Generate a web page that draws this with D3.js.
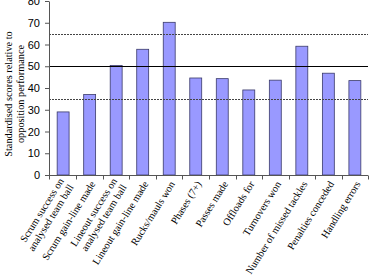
<!DOCTYPE html>
<html>
<head>
<meta charset="utf-8">
<script src="https://cdn.jsdelivr.net/npm/d3@7"></script>
<style>
  body { margin: 0; background: #fff; }
  svg { display: block; }
</style>
</head>
<body>
<div id="chart"></div>
<script>
// category labels (lines split for wrapping)
const categories = [
  ["Scrum success on", "analysed team ball"],
  ["Scrum gain-line made"],
  ["Lineout success on", "analysed team ball"],
  ["Lineout gain-line made"],
  ["Rucks/mauls won"],
  ["Phases (7+)"],
  ["Passes made"],
  ["Offloads for"],
  ["Turnovers won"],
  ["Number of missed tackles"],
  ["Penalties conceded"],
  ["Handling errors"]
];
const scores = [29, 37, 50.3, 57.8, 70.2, 44.6, 44.3, 39.1, 43.6, 59.2, 46.8, 43.4];
const yTicks = [0, 10, 20, 30, 40, 50, 60, 70, 80];
const refLines = [
  { value: 65, dashed: true },
  { value: 50, dashed: false },
  { value: 35, dashed: true }
];

const width = 372, height = 276;
const margin = { left: 50, right: 4, top: 1, bottom: 101 };

const svg = d3.select("#chart").append("svg")
  .attr("width", width)
  .attr("height", height);

const x = d3.scaleBand()
  .domain(d3.range(categories.length))
  .range([margin.left, width - margin.right])
  .paddingInner(0.55)
  .paddingOuter(0.27);

const y = d3.scaleLinear()
  .domain([0, 80])
  .range([height - margin.bottom, margin.top]);

// bars
svg.selectAll("rect.bar")
  .data(scores)
  .enter()
  .append("rect")
  .attr("class", "bar")
  .attr("x", (d, i) => x(i))
  .attr("y", (d) => y(d))
  .attr("width", x.bandwidth())
  .attr("height", (d) => y(0) - y(d))
  .attr("fill", "#9999ff")
  .attr("stroke", "#3a3a6a")
  .attr("stroke-width", 0.8);

// reference lines
svg.selectAll("line.ref")
  .data(refLines)
  .enter()
  .append("line")
  .attr("class", "ref")
  .attr("x1", margin.left - 1)
  .attr("x2", width - margin.right)
  .attr("y1", (d) => Math.round(y(d.value)) + 0.5)
  .attr("y2", (d) => Math.round(y(d.value)) + 0.5)
  .attr("stroke", (d) => d.dashed ? "#444" : "#000")
  .attr("stroke-width", 1)
  .attr("stroke-dasharray", (d) => d.dashed ? "2,1" : null);

// y axis
const yAxis = svg.append("g")
  .attr("transform", `translate(${margin.left - 1},0)`)
  .call(d3.axisLeft(y).tickValues(yTicks).tickSize(4).tickSizeOuter(0));
yAxis.select(".domain").attr("stroke", "#555");
yAxis.selectAll(".tick line").attr("stroke", "#555");
yAxis.selectAll("text")
  .attr("font-family", "Liberation Sans, Arial, sans-serif")
  .attr("font-size", 11)
  .attr("fill", "#000")
  .attr("x", -9);

// x axis line with ticks between categories
const x0 = margin.left - 1, x1 = width - margin.right;
const y0 = y(0) + 0.5;
svg.append("line")
  .attr("x1", x0).attr("x2", x1)
  .attr("y1", y0).attr("y2", y0)
  .attr("stroke", "#555");
const step = x.step();
const tickXs = d3.range(categories.length + 1).map((i) =>
  i === 0 ? x0 : x(i - 1) + x.bandwidth() / 2 + step / 2);
svg.selectAll("line.xtick")
  .data(tickXs)
  .enter()
  .append("line")
  .attr("class", "xtick")
  .attr("x1", (d) => Math.round(d) + 0.5)
  .attr("x2", (d) => Math.round(d) + 0.5)
  .attr("y1", y0)
  .attr("y2", y0 + 4)
  .attr("stroke", "#555");

// category labels
const labels = svg.selectAll("g.xlabel")
  .data(categories)
  .enter()
  .append("g")
  .attr("class", "xlabel")
  .attr("transform", (d, i) =>
    `translate(${x(i) + x.bandwidth() / 2 + 3},${y(0) + 7}) rotate(-58)`);
labels.append("text")
  .attr("text-anchor", "end")
  .attr("font-family", "Liberation Serif, Times New Roman, serif")
  .attr("font-size", 10.3)
  .attr("fill", "#000")
  .selectAll("tspan")
  .data((d) => d.map((t, k) => ({ t, k, n: d.length })))
  .enter()
  .append("tspan")
  .attr("x", 0)
  .attr("y", (d) => (d.k - (d.n - 1) / 2) * 11.5)
  .attr("dy", "0.35em")
  .text((d) => d.t);

// y title
const title = svg.append("text")
  .attr("transform", `translate(12,94) rotate(-90)`)
  .attr("text-anchor", "middle")
  .attr("font-family", "Liberation Serif, Times New Roman, serif")
  .attr("font-size", 10.3)
  .attr("fill", "#000");
title.append("tspan").attr("x", 0).attr("y", 0).text("Standardised scores relative to");
title.append("tspan").attr("x", 0).attr("y", 11.5).text("opposition performance");
</script>
</body>
</html>
